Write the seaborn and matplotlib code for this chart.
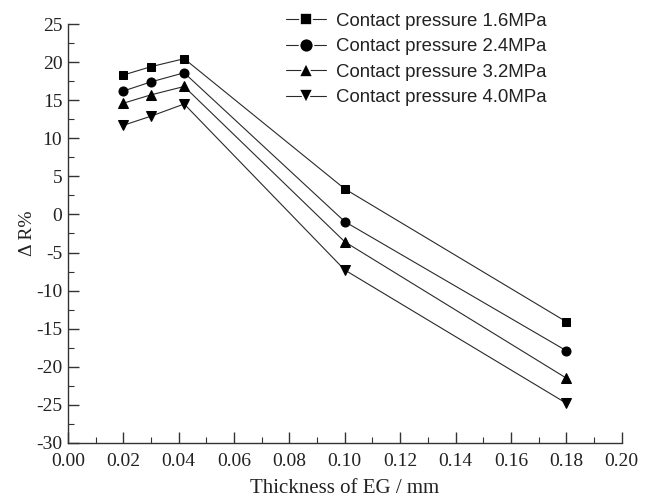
import matplotlib
matplotlib.use("Agg")
import matplotlib.pyplot as plt
from matplotlib.ticker import MultipleLocator, FixedLocator, FixedFormatter
from matplotlib.lines import Line2D
import seaborn as sns
import pandas as pd

# EG thickness (mm)
thickness = [0.02, 0.03, 0.042, 0.10, 0.18]

# Change of contact resistance, one list per contact pressure
p16 = [18.3, 19.4, 20.45, 3.35, -14.1]
p24 = [16.2, 17.4, 18.6, -0.95, -17.9]
p32 = [14.6, 15.7, 16.8, -3.6, -21.5]
p40 = [11.7, 12.9, 14.5, -7.3, -24.8]

series_labels = ["Contact pressure 1.6MPa", "Contact pressure 2.4MPa",
                 "Contact pressure 3.2MPa", "Contact pressure 4.0MPa"]
series_markers = ["s", "o", "^", "v"]
x_tick_labels = ["0.00", "0.02", "0.04", "0.06", "0.08", "0.10",
                 "0.12", "0.14", "0.16", "0.18", "0.20"]

rows = []
for lab, vals in zip(series_labels, [p16, p24, p32, p40]):
    for x, y in zip(thickness, vals):
        rows.append({"thickness": x, "dR": y, "series": lab})
df = pd.DataFrame(rows)

sns.set_theme(style="ticks")
plt.rcParams["font.family"] = ["Liberation Serif", "DejaVu Serif"]
plt.rcParams["axes.unicode_minus"] = False

fig = plt.figure(figsize=(6.46, 5.01), dpi=100)
ax = fig.add_axes([0.105, 0.116, 0.8575, 0.836])

marker_map = dict(zip(series_labels, series_markers))
sns.lineplot(data=df, x="thickness", y="dR", hue="series", style="series",
             markers=marker_map, dashes=False, palette=["black"] * 4,
             markersize=6.5, linewidth=0.8, markeredgecolor="black",
             legend=False, ax=ax, sort=False)
for ln in ax.lines:
    ln.set_color("#2a2a2a")
    ln.set_markerfacecolor("black")
    ln.set_markeredgecolor("black")
    if ln.get_marker() == "s":
        ln.set_markersize(5.6)

ax.set_xlim(0, 0.2)
ax.set_ylim(-30, 25)
ax.xaxis.set_major_locator(FixedLocator([i * 0.02 for i in range(11)]))
ax.xaxis.set_major_formatter(FixedFormatter(x_tick_labels))
ax.xaxis.set_minor_locator(MultipleLocator(0.01))
ax.yaxis.set_major_locator(MultipleLocator(5))
ax.yaxis.set_minor_locator(MultipleLocator(2.5))

for sp in ["top", "right"]:
    ax.spines[sp].set_visible(False)
for sp in ["left", "bottom"]:
    ax.spines[sp].set_color("#333333")
    ax.spines[sp].set_linewidth(1.0)

ax.tick_params(which="major", direction="in", length=8, width=1.0,
               color="#333333", labelsize=14, labelcolor="#222222")
ax.tick_params(axis="x", which="major", pad=7)
ax.tick_params(axis="y", which="major", pad=4)
ax.tick_params(which="minor", direction="in", length=4, width=0.8,
               color="#333333")

ax.set_xlabel("Thickness of EG / mm", fontsize=15, color="#222222", labelpad=7)
ax.set_ylabel("Δ R%", fontsize=14, color="#222222", labelpad=0)

handles = [Line2D([], [], color="#2a2a2a", linewidth=0.8, marker=m,
                  markersize=(9.0 if m == "s" else 10.0),
                  markerfacecolor="black", markeredgecolor="white",
                  markeredgewidth=1.2)
           for m in series_markers]
leg = fig.legend(handles, series_labels, loc="upper left",
                 bbox_to_anchor=(0.442, 0.975),
                 bbox_transform=fig.transFigure, frameon=False,
                 prop={"family": "Liberation Sans", "size": 13.4},
                 handlelength=2.2, handletextpad=0.5, labelspacing=0.46,
                 borderaxespad=0, borderpad=0)
for t in leg.get_texts():
    t.set_color("#222222")

fig.savefig("out.png", dpi=100)
